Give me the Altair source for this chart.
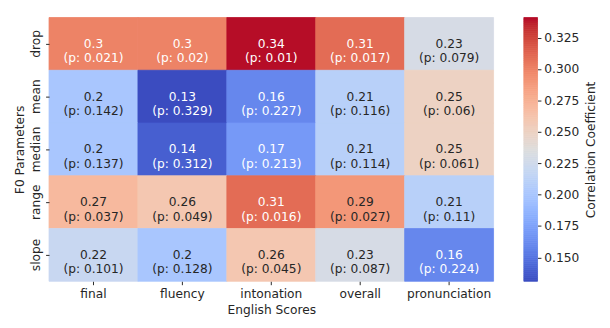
import altair as alt
import numpy as np
import pandas as pd

rows = ["drop", "mean", "median", "range", "slope"]
cols = ["final", "fluency", "intonation", "overall", "pronunciation"]
r_vals = [
    [0.3, 0.3, 0.34, 0.31, 0.23],
    [0.2, 0.13, 0.16, 0.21, 0.25],
    [0.2, 0.14, 0.17, 0.21, 0.25],
    [0.27, 0.26, 0.31, 0.29, 0.21],
    [0.22, 0.2, 0.26, 0.23, 0.16],
]
p_vals = [
    [0.021, 0.02, 0.01, 0.017, 0.079],
    [0.142, 0.329, 0.227, 0.116, 0.06],
    [0.137, 0.312, 0.213, 0.114, 0.061],
    [0.037, 0.049, 0.016, 0.027, 0.11],
    [0.101, 0.128, 0.045, 0.087, 0.224],
]
color_lo, color_hi = 0.131, 0.341
cbar_ticks = [0.150, 0.175, 0.200, 0.225, 0.250, 0.275, 0.300, 0.325]

# matplotlib "coolwarm" (Moreland) stops
coolwarm = [
    (59, 76, 192), (68, 90, 204), (77, 104, 215), (87, 117, 225), (98, 130, 234),
    (108, 142, 241), (119, 154, 247), (130, 165, 251), (141, 176, 254), (152, 185, 255),
    (163, 194, 255), (174, 201, 253), (184, 208, 249), (194, 213, 244), (204, 217, 238),
    (213, 219, 230), (221, 221, 221), (229, 216, 209), (236, 211, 197), (241, 204, 185),
    (245, 196, 173), (247, 187, 160), (247, 177, 148), (247, 166, 135), (244, 154, 123),
    (241, 141, 111), (236, 127, 99), (229, 112, 88), (222, 96, 77), (213, 80, 66),
    (203, 62, 56), (192, 40, 47), (180, 4, 38),
]
cw_hex = ["#%02x%02x%02x" % c for c in coolwarm]
cw_dom = list(np.linspace(color_lo, color_hi, len(cw_hex)))
cscale = alt.Scale(domain=cw_dom, range=cw_hex, clamp=True)

recs = []
for i, rn in enumerate(rows):
    for j, cn in enumerate(cols):
        recs.append({"row": rn, "col": cn, "r": r_vals[i][j],
                     "label": f"{r_vals[i][j]}\n(p: {p_vals[i][j]})"})
df = pd.DataFrame(recs)

FONT = "DejaVu Sans"
FS = 12.5
TXT = "#262626"

base = alt.Chart(df).encode(
    x=alt.X("col:N", sort=cols,
            scale=alt.Scale(paddingInner=0, paddingOuter=0),
            axis=alt.Axis(title="English Scores", labelAngle=0, domain=False,
                          tickSize=3.5, tickColor=TXT, labelPadding=3, titlePadding=4)),
    y=alt.Y("row:N", sort=rows,
            scale=alt.Scale(paddingInner=0, paddingOuter=0),
            axis=alt.Axis(title="F0 Parameters", labelAngle=270, domain=False,
                          tickSize=3.5, tickColor=TXT, labelPadding=3, titlePadding=4)),
)
rect = base.mark_rect(strokeWidth=0.8).encode(
    color=alt.Color("r:Q", scale=cscale, legend=None),
    stroke=alt.Stroke("r:Q", scale=cscale, legend=None),
)
text = base.mark_text(lineBreak="\n", lineHeight=15, fontSize=FS, font=FONT,
                      baseline="middle").encode(
    text="label:N",
    color=alt.condition("datum.r >= 0.295 || datum.r <= 0.17",
                        alt.value("white"), alt.value(TXT)),
)
heat = (rect + text).properties(width=455, height=270)

edges = np.linspace(color_lo, color_hi, 136)
cb_df = pd.DataFrame({"v": edges[:-1], "v2": edges[1:],
                      "m": (edges[:-1] + edges[1:]) / 2})
cbar = alt.Chart(cb_df).mark_rect(strokeWidth=0.8).encode(
    y=alt.Y("v:Q", scale=alt.Scale(domain=[color_lo, color_hi], nice=False, zero=False),
            axis=alt.Axis(orient="right", values=cbar_ticks, format=".3f",
                          title="Correlation Coefficient", titleAngle=270,
                          titleBaseline="top", domain=False, grid=False,
                          tickSize=3.5, tickColor=TXT, labelPadding=3, titlePadding=6)),
    y2="v2:Q",
    color=alt.Color("m:Q", scale=cscale, legend=None),
    stroke=alt.Stroke("m:Q", scale=cscale, legend=None),
).properties(width=14, height=270)

chart = alt.hconcat(heat, cbar, spacing=29).configure_view(stroke=None).configure_axis(
    labelFont=FONT, titleFont=FONT, labelFontSize=FS, titleFontSize=FS,
    labelColor=TXT, titleColor=TXT, titleFontWeight="normal", grid=False,
)

chart.save("out.html", embed_options={"renderer": "svg", "actions": False})
